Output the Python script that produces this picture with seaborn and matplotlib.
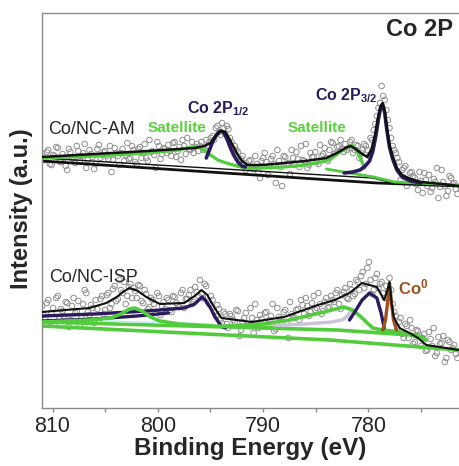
import numpy as np
import pandas as pd
import matplotlib
matplotlib.use("Agg")
import matplotlib.pyplot as plt
import seaborn as sns

# ---------------- data (binding energy in eV, intensity in a.u.) ----------------
energy = np.linspace(811.0, 771.7, 132)     # measurement grid A, 0.3 eV step
energy_b = np.linspace(810.85, 771.55, 132)  # interleaved grid B

am_counts = [255, 248, 258, 243, 252, 260, 246, 250, 238, 256,
             250, 262, 247, 255, 240, 258, 251, 244, 263, 253,
             257, 249, 236, 260, 252, 255, 247, 265, 250, 258,
             244, 261, 255, 250, 268, 257, 240, 262, 254, 259,
             263, 252, 266, 257, 248, 262, 270, 258, 255, 264,
             262, 258, 268, 266, 272, 280, 276, 285, 274, 279, 266, 262, 256, 249, 245, 240,
             248, 239, 244, 230, 250, 246, 242, 252, 225, 247,
             222, 251, 245, 258, 243, 249, 262, 247, 240, 255,
             251, 246, 263, 254, 250, 258, 265, 255, 262, 259,
             264, 260, 268, 258, 262, 255, 264, 258, 270, 278, 292, 305, 312, 298, 280, 262,
             255, 246, 238, 242, 228, 236,
             230, 218, 227, 235, 222, 216, 229, 240, 221, 226, 212, 232, 224, 219]

am_counts_b = [249, 256, 244, 253, 261, 247, 254, 242, 259, 250,
               245, 257, 252, 264, 248, 254, 239, 259, 250, 256,
               252, 262, 248, 255, 243, 259, 253, 249, 262, 246,
               259, 250, 264, 247, 256, 253, 266, 249, 260, 255,
               257, 265, 251, 261, 268, 254, 259, 266, 261, 257,
               266, 259, 262, 270, 268, 282, 273, 280, 282, 270, 258, 258, 246, 252, 238, 247,
               240, 252, 236, 247, 255, 233, 249, 244, 258, 241,
               252, 244, 234, 250, 256, 241, 248, 264, 243, 251,
               256, 244, 252, 260, 247, 266, 254, 261, 268, 256,
               258, 266, 255, 263, 250, 258, 262, 252, 268, 284, 300, 322, 308, 288, 270, 258,
               250, 228, 240, 222, 235, 232,
               224, 236, 215, 228, 233, 220, 226, 210, 238, 222, 217, 230, 225, 214]

isp_counts = [102, 90, 108, 95, 84, 112, 99, 92, 105, 88,
              110, 97, 82, 104, 115, 93, 100, 108, 87, 112,
              98, 115, 104, 122, 109, 118, 126, 112, 124, 120,
              110, 122, 105, 114, 101, 108, 96, 112, 102, 99,
              108, 96, 111, 103, 115, 100, 109, 118, 106, 116,
              128, 110, 122, 104, 108, 92, 99, 85, 94,
              80, 92, 86, 97, 78, 90, 84, 100, 75, 88, 93,
              82, 96, 88, 104, 79, 91, 86, 98, 70, 94,
              90, 99, 108, 94, 102, 96, 112, 100, 104, 97,
              110, 101, 108, 115, 104, 113, 120, 109, 118, 114,
              126, 132, 120, 140, 128, 118, 134, 124, 115, 122,
              130, 104, 92, 86, 74, 84, 70, 80, 66, 77,
              62, 74, 58, 69, 80, 55, 64, 72, 50, 66, 60, 54]

isp_counts_b = [93, 105, 86, 100, 110, 91, 97, 106, 81, 102,
                95, 107, 90, 118, 96, 103, 85, 99, 109, 94,
                113, 100, 119, 107, 128, 115, 104, 121, 110, 117,
                123, 107, 118, 99, 110, 104, 115, 93, 106, 110,
                98, 112, 105, 101, 118, 109, 113, 104, 121, 112,
                114, 124, 106, 112, 96, 103, 88, 96, 84,
                94, 88, 98, 72, 86, 95, 82, 90, 104, 80, 89,
                95, 84, 92, 77, 100, 89, 96, 85, 106, 91,
                98, 88, 103, 110, 92, 105, 98, 115, 94, 106,
                100, 112, 106, 118, 99, 116, 110, 124, 112, 128,
                118, 136, 124, 146, 114, 130, 120, 126, 110, 116,
                118, 96, 80, 90, 70, 82, 88, 64, 78, 72,
                70, 57, 76, 62, 52, 71, 65, 46, 68, 58, 63, 50]

# ---- Co/NC-AM fitted curves ----
am_env_x = [811.0, 806.0, 801.0, 798.0, 796.5, 795.6, 795.0, 794.5, 794.0, 793.6, 793.2, 792.8,
            792.4, 792.0, 791.5, 790.0, 788.0, 786.0, 784.0, 783.0, 782.2, 781.7, 781.2, 780.6,
            780.1, 779.7, 779.4, 779.1, 778.85, 778.65, 778.45, 778.25, 778.0, 777.7, 777.3,
            776.8, 776.0, 775.0, 773.0, 771.4]
am_env_y = [251, 254, 257, 259, 260, 262, 265, 272, 277, 276, 269, 261,
            253, 247, 243, 243, 245, 247, 250, 255, 260, 262, 259, 254,
            251, 259, 272, 290, 302, 305, 297, 280, 263, 251, 240,
            233, 229, 226, 224, 222]

am_p12_x = [795.4, 795.1, 794.8, 794.5, 794.2, 793.95, 793.7, 793.4, 793.1, 792.8, 792.4, 792.0, 791.7]
am_p12_y = [250, 258, 266, 272, 276, 277, 275, 268, 260, 253, 246, 242, 241]

am_p32_x = [782.3, 781.5, 780.8, 780.3, 779.9, 779.6, 779.3, 779.05, 778.85, 778.65, 778.45,
            778.25, 778.0, 777.7, 777.3, 776.8, 776.0, 775.0]
am_p32_y = [235, 236, 238, 242, 247, 256, 272, 289, 300, 303, 295, 278, 261, 249, 238, 231, 227, 225]

am_sat_x = [811.0, 806.0, 801.0, 798.0, 796.8, 796.1, 795.5, 795.0, 794.3, 793.5, 792.5, 791.7,
            790.0, 788.0, 786.0, 784.5, 783.7, 782.7, 782.2, 781.6, 781.2, 780.9, 780.6, 780.35]
am_sat_y = [250, 252, 255, 258, 261, 261, 257, 253, 248, 245, 242, 240,
            240, 241, 243, 246, 248, 256, 259, 263, 259, 253, 246, 240]

am_base1_x = [811.0, 779.2, 771.4]
am_base1_y = [247, 225, 222]
am_base2_x = [811.0, 779.6, 778.0, 771.4]
am_base2_y = [250, 230, 226, 223]
am_tail_x = [784.0, 779.5, 777.5, 771.4]
am_tail_y = [239, 231, 226, 223]

# ---- Co/NC-ISP fitted curves ----
isp_env_x = [811.0, 806.5, 804.9, 803.9, 803.3, 802.7, 801.9, 801.1, 799.8, 797.5, 796.5, 795.85,
             795.3, 794.6, 793.95, 791.1, 788.0, 784.8, 783.2, 781.8, 780.6, 779.9, 779.2, 778.5,
             778.2, 778.0, 777.8, 777.6, 777.05, 776.1, 775.3, 774.5, 773.25, 771.4]
isp_env_y = [96, 100, 105, 111, 116, 120, 117, 111, 104, 105, 112, 118,
             113, 100, 90, 86, 91, 103, 108, 115, 125, 123, 121, 108,
             118, 126, 105, 91, 80, 75, 70, 63, 61, 58]

isp_p12a_x = [811.0, 806.0, 801.0, 797.5, 796.5, 796.0, 795.8, 795.5, 795.0, 794.5, 794.0, 793.6]
isp_p12a_y = [92, 94, 97, 100, 104, 109, 111, 108, 100, 90, 82, 80]
isp_p12b_x = [811.0, 806.0, 802.0, 799.0]
isp_p12b_y = [87, 89, 92, 95]

isp_lav_x = [793.6, 790.0, 786.0, 783.5, 782.5, 782.0, 781.6]
isp_lav_y = [81, 82, 84, 86, 88, 92, 98]

isp_p32_x = [781.8, 781.3, 780.6, 779.9, 779.2, 778.8, 778.5]
isp_p32_y = [88, 96, 108, 115, 110, 95, 80]

isp_co0_x = [778.66, 778.38, 778.19, 778.0, 777.81, 777.62, 777.33]
isp_co0_y = [78, 88, 105, 125, 105, 88, 78]

isp_sat1_x = [811.0, 806.5, 804.5, 803.5, 802.7, 802.2, 801.5, 800.7, 799.8, 798.0, 795.0, 792.0, 789.0]
isp_sat1_y = [86, 88, 90, 94, 99, 100, 97, 91, 87, 84, 82, 81, 80]
isp_sat2_x = [793.5, 790.0, 787.5, 785.0, 783.5, 782.3, 781.5, 780.7, 779.6, 778.7, 777.0, 775.5, 774.5]
isp_sat2_y = [82, 84, 88, 94, 98, 101, 98, 91, 80, 78, 76, 73, 68]
isp_baseA_x = [811.0, 797.0, 783.0, 776.0, 774.5]
isp_baseA_y = [86, 82, 78, 73, 68]
isp_baseB_x = [811.0, 783.7, 771.4]
isp_baseB_y = [82, 68, 58]
isp_cyan_x = [805.0, 795.0]
isp_cyan_y = [87, 84]

x_ticks = [810, 800, 790, 780]
x_minor = [805, 795, 785, 775]

# ---------------- style ----------------
sns.set_theme(style="white")
plt.rcParams["font.family"] = ["Liberation Sans", "DejaVu Sans"]
plt.rcParams["mathtext.fontset"] = "custom"
plt.rcParams["mathtext.rm"] = "Liberation Sans"
plt.rcParams["mathtext.bf"] = "Liberation Sans:bold"
plt.rcParams["mathtext.it"] = "Liberation Sans:italic"

BLACK = "#111111"
PURPLE = "#2b1b5e"
GREEN = "#52cc3c"
GREEN_TXT = "#5ccf3f"
BROWN = "#a0501f"
LAV = "#c9c3d9"
GRAY = "#8a8a8a"

fig = plt.figure(figsize=(4.59, 4.66), dpi=100)
ax = fig.add_axes([42 / 459, 58 / 466, 417 / 459, 395 / 466])

scatter_df = pd.DataFrame({
    "energy": np.concatenate([energy, energy_b, energy, energy_b]),
    "intensity": am_counts + am_counts_b + isp_counts + isp_counts_b,
})
sns.scatterplot(data=scatter_df, x="energy", y="intensity", ax=ax, marker="o", s=16,
                facecolor="none", edgecolor="#8f8f8f", linewidth=0.7, zorder=1, legend=False)


def curve(xs, ys, color, lw, z, alpha=1.0):
    sns.lineplot(x=xs, y=ys, sort=False, estimator=None, color=color, lw=lw, ax=ax,
                 zorder=z, alpha=alpha, legend=False)


# Co/NC-AM
curve(am_base2_x, am_base2_y, BLACK, 1.0, 2)
curve(am_base1_x, am_base1_y, BLACK, 2.0, 2)
curve(am_tail_x, am_tail_y, GREEN, 2.0, 3)
curve(am_sat_x, am_sat_y, GREEN, 2.3, 3)
curve(am_p12_x, am_p12_y, PURPLE, 2.6, 4)
curve(am_p32_x, am_p32_y, PURPLE, 2.6, 4)
curve(am_env_x, am_env_y, BLACK, 1.8, 5)

# Co/NC-ISP
curve(isp_baseB_x, isp_baseB_y, GREEN, 2.6, 2)
curve(isp_baseA_x, isp_baseA_y, GREEN, 2.6, 2)
curve(isp_cyan_x, isp_cyan_y, "#bdeff2", 1.2, 2)
curve(isp_lav_x, isp_lav_y, LAV, 2.4, 3)
curve(isp_p12b_x, isp_p12b_y, PURPLE, 2.4, 3)
curve(isp_p12a_x, isp_p12a_y, PURPLE, 2.4, 3)
curve(isp_sat1_x, isp_sat1_y, GREEN, 2.6, 4)
curve(isp_sat2_x, isp_sat2_y, GREEN, 2.6, 4)
curve(isp_p32_x, isp_p32_y, PURPLE, 2.4, 4)
curve(isp_co0_x, isp_co0_y, BROWN, 2.4, 4)
curve(isp_env_x, isp_env_y, BLACK, 1.5, 5)

# ---------------- axes ----------------
ax.set_xlim(811.0, 771.4)
ax.set_ylim(0, 395)
ax.set_yticks([])
ax.set_xticks(x_ticks)
ax.set_xticklabels([str(t) for t in x_ticks])
ax.set_xticks(x_minor, minor=True)
ax.tick_params(axis="x", which="both", direction="out", length=3, width=1, color=GRAY,
               labelsize=15.5, pad=3, bottom=True)
for side in ["left", "bottom", "top"]:
    ax.spines[side].set_color(GRAY)
    ax.spines[side].set_linewidth(1.0)
ax.spines["right"].set_visible(False)

ax.set_xlabel("Binding Energy (eV)", fontsize=17.5, fontweight="bold", labelpad=0)
ax.set_ylabel("Intensity (a.u.)", fontsize=17, fontweight="bold", va="center")
ax.yaxis.set_label_coords(-0.05, 0.505)

# ---------------- annotations ----------------
ax.text(772.0, 378, "Co 2P", ha="right", va="center", fontsize=17, fontweight="bold")
ax.text(810.4, 278, "Co/NC-AM", ha="left", va="center", fontsize=13)
ax.text(800.98, 280, "Satellite", ha="left", va="center", fontsize=11, fontweight="bold",
        color=GREEN_TXT)
ax.text(797.27, 299, r"Co 2P$_{\mathbf{1/2}}$", ha="left", va="center", fontsize=11.5,
        fontweight="bold", color=PURPLE)
ax.text(787.68, 280, "Satellite", ha="left", va="center", fontsize=11, fontweight="bold",
        color=GREEN_TXT)
ax.text(785.1, 312, r"Co 2P$_{\mathbf{3/2}}$", ha="left", va="center", fontsize=11.5,
        fontweight="bold", color=PURPLE)
ax.text(810.28, 130, "Co/NC-ISP", ha="left", va="center", fontsize=13)
ax.text(777.24, 121, r"Co$^{\mathbf{0}}$", ha="left", va="center", fontsize=12,
        fontweight="bold", color=BROWN)

fig.savefig("out.png", dpi=100)
